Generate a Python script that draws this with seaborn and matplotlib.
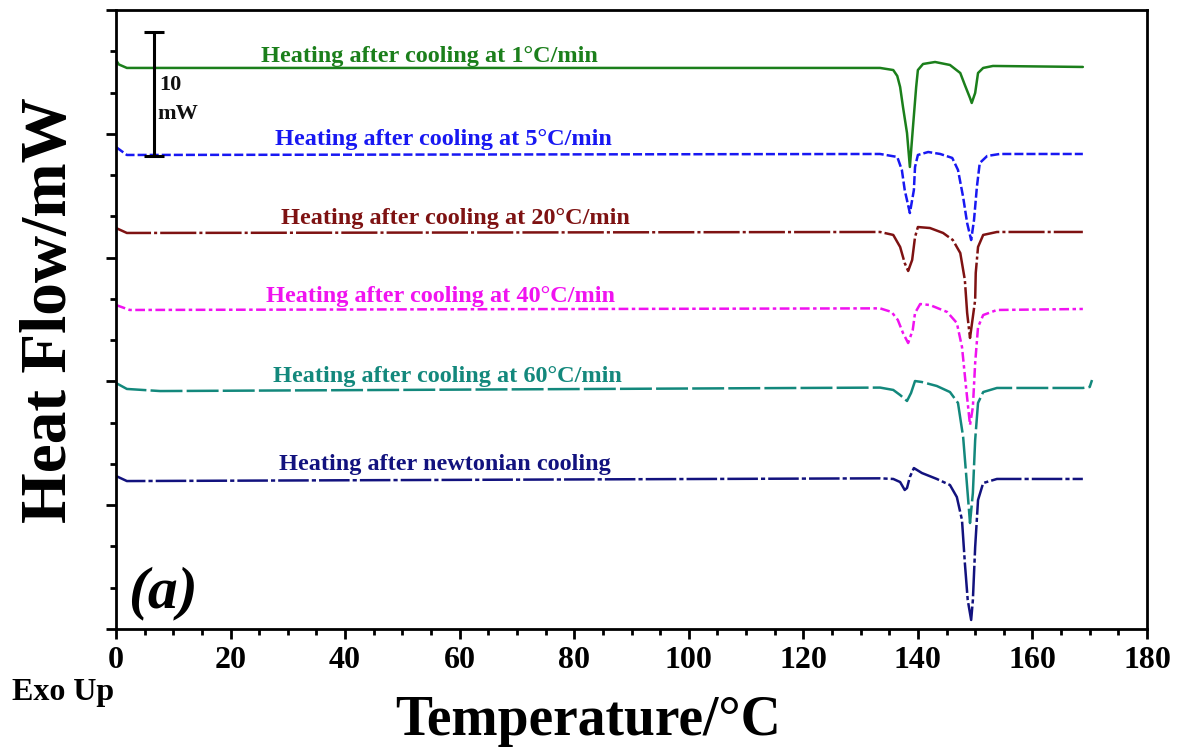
import numpy as np
import pandas as pd
import matplotlib
matplotlib.use("Agg")
import matplotlib.pyplot as plt
from matplotlib.ticker import MultipleLocator, AutoMinorLocator, NullFormatter
import seaborn as sns

# ---- DSC heating curves (temperature in °C, heat flow in mW, exo up) ----
temp_1 = [0, 0.5, 1.9, 133.4, 135.7, 136.4, 136.9, 137.4, 138.1, 138.6, 139.1, 139.7, 140.0,
          140.9, 143.0, 145.6, 147.4, 148.2, 149.1, 149.4, 150.0, 150.5, 151.4, 153.1, 168.8]
flow_1 = [45.96, 45.6, 45.32, 45.32, 45.15, 44.67, 43.78, 42.16, 40.06, 37.32, 40.31, 43.78, 45.15,
          45.64, 45.80, 45.56, 44.91, 43.94, 42.89, 42.49, 43.30, 44.91, 45.32, 45.48, 45.40]

temp_5 = [0, 1.9, 133.4, 136.4, 137.2, 137.7, 138.6, 139.3, 139.5, 140.0, 141.8, 143.9,
          146.0, 147.0, 147.9, 148.6, 149.3, 149.8, 150.3, 150.8, 152.1, 154.3, 168.8]
flow_5 = [38.93, 38.29, 38.37, 38.13, 37.08, 35.46, 33.60, 35.46, 37.32, 38.29, 38.53, 38.37,
          38.05, 37.08, 34.89, 32.79, 31.42, 33.04, 35.70, 37.64, 38.21, 38.37, 38.37]

temp_20 = [0, 1.9, 133.4, 135.7, 136.9, 137.7, 138.3, 139.0, 139.5, 140.0, 142.1, 144.4,
           146.1, 147.4, 148.2, 148.6, 149.1, 150.0, 150.1, 150.5, 151.4, 153.8, 168.8]
flow_20 = [32.39, 31.99, 32.07, 31.83, 30.86, 29.56, 28.92, 29.81, 31.66, 32.47, 32.39, 31.99,
           31.42, 30.37, 28.19, 25.53, 23.51, 26.58, 28.76, 30.86, 31.83, 32.07, 32.07]

temp_40 = [0, 2.4, 133.4, 135.4, 136.5, 137.4, 138.3, 139.1, 139.5, 140.4, 142.1, 145.1,
           146.8, 147.7, 148.4, 149.1, 149.6, 150.0, 150.5, 151.4, 153.8, 168.8]
flow_40 = [26.17, 25.77, 25.90, 25.61, 24.96, 23.91, 23.10, 24.15, 25.53, 26.25, 26.17, 25.61,
           24.72, 22.78, 19.55, 16.48, 17.93, 21.49, 24.39, 25.36, 25.77, 25.85]

temp_60 = [0, 1.9, 7.7, 133.4, 135.7, 136.9, 138.1, 138.8, 139.5, 140.7, 143.3, 145.6,
           147.0, 147.9, 148.6, 149.1, 149.6, 150.0, 150.5, 151.4, 153.8, 168.8, 170.0, 170.4]
flow_60 = [19.87, 19.39, 19.22, 19.50, 19.31, 18.90, 18.42, 19.06, 20.03, 19.95, 19.63, 19.14,
           18.26, 15.51, 11.47, 8.56, 10.99, 15.27, 18.26, 19.14, 19.47, 19.47, 19.55, 20.11]

temp_nw = [0, 1.9, 133.4, 135.7, 136.9, 137.7, 138.1, 138.6, 139.3, 140.7, 143.3, 145.6,
           146.8, 147.7, 148.2, 148.7, 149.3, 149.6, 150.0, 150.5, 151.4, 153.8, 168.8]
flow_nw = [12.36, 11.95, 12.17, 12.12, 11.87, 11.23, 11.39, 12.28, 13.00, 12.60, 12.12, 11.63,
           10.66, 8.80, 5.33, 2.34, 0.73, 2.34, 6.62, 10.42, 11.79, 12.12, 12.12]

labels = ["Heating after cooling at 1°C/min",
          "Heating after cooling at 5°C/min",
          "Heating after cooling at 20°C/min",
          "Heating after cooling at 40°C/min",
          "Heating after cooling at 60°C/min",
          "Heating after newtonian cooling"]
label_x = [54.8, 57.1, 59.2, 56.7, 57.8, 57.4]
label_y = [45.8, 39.1, 32.7, 26.4, 19.95, 12.84]

x_ticks = [0, 20, 40, 60, 80, 100, 120, 140, 160, 180]

scale_x = 6.7       # °C position of the 10 mW scale bar
scale_low = 38.2    # lower end of the scale bar, mW
scale_mw = 10       # scale bar length, mW

colors = ["#1b7f1b", "#1818f2", "#7e1212", "#f012f0", "#13887c", "#12127e"]
dashes = ["-",
          (0, (6.5, 2.2)),
          (0, (26, 2.2, 2.2, 2.2)),
          (0, (7, 2.5, 2.5, 2.5)),
          (0, (23, 3)),
          (0, (22, 2.2, 3, 2.2))]

series = [(temp_1, flow_1), (temp_5, flow_5), (temp_20, flow_20),
          (temp_40, flow_40), (temp_60, flow_60), (temp_nw, flow_nw)]

frames = []
for name, (t, f) in zip(labels, series):
    frames.append(pd.DataFrame({"Temperature": t, "HeatFlow": f, "run": name}))
df = pd.concat(frames, ignore_index=True)

sns.set_theme(style="white")
plt.rcParams["font.family"] = ["Liberation Serif", "DejaVu Serif"]
plt.rcParams["font.weight"] = "bold"
plt.rcParams["lines.scale_dashes"] = False
plt.rcParams["text.color"] = "black"
plt.rcParams["axes.labelcolor"] = "black"
plt.rcParams["xtick.color"] = "black"
plt.rcParams["ytick.color"] = "black"

fig = plt.figure(figsize=(11.8, 7.47), dpi=100)
ax = fig.add_axes([116 / 1180, 1 - 629 / 747, 1031 / 1180, 619 / 747])

for name, col, ls in zip(labels, colors, dashes):
    sub = df[df["run"] == name]
    sns.lineplot(data=sub, x="Temperature", y="HeatFlow", color=col, linewidth=1.8,
                 linestyle=ls, estimator=None, sort=False, ax=ax, legend=False)

for txt, tx, ty, col in zip(labels, label_x, label_y, colors):
    ax.text(tx, ty, txt, color=col, fontsize=17.5, fontweight="bold",
            ha="center", va="baseline")

# 10 mW scale bar
ax.errorbar([scale_x], [scale_low + scale_mw / 2], yerr=[scale_mw / 2], color="black",
            elinewidth=2.2, capsize=7, capthick=2.2, fmt="none")
ax.text(7.5, 43.5, "10", fontsize=16, fontweight="bold", color="#111111", va="baseline")
ax.text(7.2, 41.2, "mW", fontsize=16, fontweight="bold", color="#111111", va="baseline")

ax.text(0.0116, 0.0355, "(a)", transform=ax.transAxes, fontsize=43,
        fontweight="bold", fontstyle="italic", va="baseline", ha="left", color="black")

ax.set_xlim(0, 180)
ax.set_ylim(0, 50)
ax.set_xticks(x_ticks)
ax.set_xticklabels([str(v) for v in x_ticks])
ax.xaxis.set_minor_locator(MultipleLocator(5))
ax.yaxis.set_major_locator(MultipleLocator(10))
ax.yaxis.set_minor_locator(AutoMinorLocator(3))
ax.yaxis.set_major_formatter(NullFormatter())

ax.tick_params(axis="both", which="major", direction="out", length=7, width=2,
               color="black", labelcolor="black", labelsize=23, pad=5,
               left=True, bottom=True)
ax.tick_params(axis="both", which="minor", direction="out", length=4, width=2,
               color="black", left=True, bottom=True)
for lab in ax.get_xticklabels():
    lab.set_fontweight("bold")

for sp in ax.spines.values():
    sp.set_linewidth(2)
    sp.set_color("black")
    sp.set_visible(True)

ax.set_xlabel("Temperature/°C", fontsize=40, fontweight="bold", color="black")
ax.xaxis.set_label_coords(0.458, -0.171)
ax.xaxis.label.set_va("baseline")
ax.set_ylabel("Heat Flow/mW", fontsize=47, fontweight="bold", color="black")
ax.yaxis.set_label_coords(-0.064, 0.515)
ax.yaxis.label.set_va("center")

fig.text(12 / 1180, 1 - 700 / 747, "Exo Up", fontsize=23, fontweight="bold",
         ha="left", va="baseline", color="black")

fig.savefig("out.png", dpi=100, facecolor="white")
